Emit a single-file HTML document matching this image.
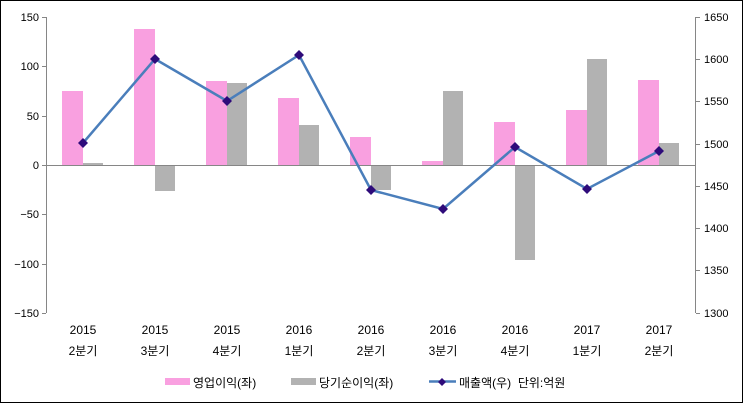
<!DOCTYPE html>
<html><head><meta charset="utf-8"><style>body{margin:0}svg{display:block}</style></head><body>
<svg width="743" height="403" xmlns="http://www.w3.org/2000/svg" font-family="Liberation Sans, Noto Sans CJK KR, sans-serif" font-size="11">
<rect x="0.5" y="0.5" width="742" height="402" fill="#fff" stroke="#000"/>
<g fill="#f9a0e0">
<rect x="62" y="91" width="21" height="74"/>
<rect x="134" y="29" width="21" height="136"/>
<rect x="206" y="81" width="21" height="84"/>
<rect x="278" y="98" width="21" height="67"/>
<rect x="350" y="137" width="21" height="28"/>
<rect x="422" y="161" width="21" height="4"/>
<rect x="494" y="122" width="21" height="43"/>
<rect x="566" y="110" width="21" height="55"/>
<rect x="638" y="80" width="21" height="85"/>
</g>
<g fill="#b2b2b2">
<rect x="83" y="163" width="20" height="2"/>
<rect x="155" y="165" width="20" height="26"/>
<rect x="227" y="83" width="20" height="82"/>
<rect x="299" y="125" width="20" height="40"/>
<rect x="371" y="165" width="20" height="25"/>
<rect x="443" y="91" width="20" height="74"/>
<rect x="515" y="165" width="20" height="95"/>
<rect x="587" y="59" width="20" height="106"/>
<rect x="659" y="143" width="20" height="22"/>
</g>
<g stroke="#868686" fill="none">
<line x1="46.5" y1="17" x2="46.5" y2="313"/>
<line x1="695.5" y1="17" x2="695.5" y2="313"/>
<line x1="46" y1="165.5" x2="695" y2="165.5"/>
<path d="M42 17.5h4M42 66.5h4M42 116.5h4M42 165.5h4M42 214.5h4M42 264.5h4M42 313.5h4"/>
<path d="M696 17.5h4M696 59.5h4M696 101.5h4M696 144.5h4M696 186.5h4M696 228.5h4M696 270.5h4M696 313.5h4"/>
</g>
<g text-anchor="end" fill="#000">
<text x="39" y="21">150</text><text x="39" y="70">100</text><text x="39" y="120">50</text><text x="39" y="169">0</text><text x="39" y="218">−50</text><text x="39" y="268">−100</text><text x="39" y="317">−150</text>
</g>
<g fill="#000">
<text x="704" y="21">1650</text><text x="704" y="63">1600</text><text x="704" y="105">1550</text><text x="704" y="148">1500</text><text x="704" y="190">1450</text><text x="704" y="232">1400</text><text x="704" y="274">1350</text><text x="704" y="317">1300</text>
</g>
<polyline points="83,143 155,59 227,101 299,55 371,190 443,209 515,147 587,189 659,151" fill="none" stroke="#4a7ebb" stroke-width="2.5"/>
<g fill="#2e0b7a">
<path d="M83 138l5 5-5 5-5-5z"/><path d="M155 54l5 5-5 5-5-5z"/><path d="M227 96l5 5-5 5-5-5z"/><path d="M299 50l5 5-5 5-5-5z"/><path d="M371 185l5 5-5 5-5-5z"/><path d="M443 204l5 5-5 5-5-5z"/><path d="M515 142l5 5-5 5-5-5z"/><path d="M587 184l5 5-5 5-5-5z"/><path d="M659 146l5 5-5 5-5-5z"/>
</g>
<g text-anchor="middle" fill="#000" font-size="12">
<text x="83" y="334">2015</text><text x="155" y="334">2015</text><text x="227" y="334">2015</text><text x="299" y="334">2016</text><text x="371" y="334">2016</text><text x="443" y="334">2016</text><text x="515" y="334">2016</text><text x="587" y="334">2017</text><text x="659" y="334">2017</text>
<text x="83" y="355">2분기</text><text x="155" y="355">3분기</text><text x="227" y="355">4분기</text><text x="299" y="355">1분기</text><text x="371" y="355">2분기</text><text x="443" y="355">3분기</text><text x="515" y="355">4분기</text><text x="587" y="355">1분기</text><text x="659" y="355">2분기</text>
</g>
<rect x="165" y="378" width="25" height="7" fill="#f9a0e0"/>
<text x="193" y="387" font-size="12">영업이익(좌)</text>
<rect x="291" y="378" width="25" height="7" fill="#b2b2b2"/>
<text x="319" y="387" font-size="12">당기순이익(좌)</text>
<line x1="429" y1="381.5" x2="456" y2="381.5" stroke="#4a7ebb" stroke-width="2.5"/>
<path d="M442 378l4 4-4 4-4-4z" fill="#2e0b7a"/>
<text x="459" y="387" font-size="12">매출액(우)&#160;&#160;단위:억원</text>
</svg>
</body></html>
